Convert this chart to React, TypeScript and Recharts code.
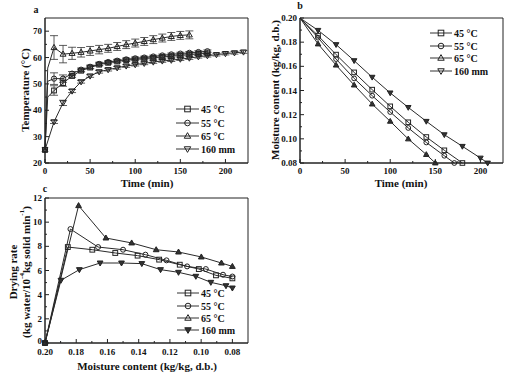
import React from 'react';
import { LineChart, Line, XAxis, YAxis, ErrorBar, ReferenceArea } from 'recharts';

// ---------- Panel a: temperature vs time ----------
const timeA45 = [0, 3, 10, 20, 30, 40, 50, 60, 70, 80, 90, 100, 110, 120, 130, 140, 150, 160, 170, 180];
const tempA45 = [25, 45, 47.5, 50.3, 53.0, 55.0, 56.2, 57.3, 58.0, 58.5, 59.0, 59.3, 59.6, 59.9, 60.2, 60.5, 60.8, 61.1, 61.4, 61.6];
const errA45 = [0, 0, 1.8, 1.2, 0.6, 0.5, 0.5, 0.5, 0.5, 0.5, 0.5, 0.5, 0.5, 0.5, 0.5, 0.5, 0.5, 0.5, 0.5, 0.5];
const timeA55 = [0, 3, 10, 20, 30, 40, 50, 60, 70, 80, 90, 100, 110, 120, 130, 140, 150, 160, 170, 180];
const tempA55 = [25, 51, 52.0, 52.0, 53.9, 55.4, 56.5, 57.6, 58.3, 58.8, 59.3, 59.7, 60.0, 60.4, 60.8, 61.2, 61.5, 61.8, 62.1, 62.4];
const errA55 = [0, 0, 2.2, 1.4, 0.8, 0.6, 0.6, 0.6, 0.5, 0.5, 0.5, 0.5, 0.5, 0.5, 0.5, 0.5, 0.5, 0.5, 0.5, 0.5];
const timeA65 = [0, 3, 10, 20, 30, 40, 50, 60, 70, 80, 90, 100, 110, 120, 130, 140, 150, 160];
const tempA65 = [25, 56, 63.8, 61.3, 61.6, 62.0, 62.5, 63.0, 63.5, 64.2, 64.9, 65.5, 66.1, 66.8, 67.4, 68.0, 68.4, 68.6];
const errA65 = [0, 0, 4.5, 3.3, 2.3, 1.8, 1.7, 1.6, 1.5, 1.5, 1.5, 1.5, 1.5, 1.5, 1.5, 1.5, 1.5, 1.5];
const timeA160 = [0, 10, 20, 30, 40, 50, 60, 70, 80, 90, 100, 110, 120, 130, 140, 150, 160, 170, 180, 190, 200, 210, 220];
const tempA160 = [25, 35.6, 42.8, 47.3, 50.8, 53.0, 54.6, 55.4, 56.1, 56.8, 57.3, 57.8, 58.3, 58.7, 59.0, 59.4, 59.8, 60.3, 60.7, 61.1, 61.5, 61.8, 62.1];
const errA160 = [0, 0.6, 1.0, 0.6, 0.5, 0.5, 0.5, 0.5, 0.5, 0.5, 0.5, 0.5, 0.5, 0.5, 0.5, 0.5, 0.5, 0.5, 0.5, 0.5, 0.5, 0.5, 0.5];

// ---------- Panel b: moisture vs time ----------
const timeB45 = [0, 20, 40, 60, 80, 100, 120, 140, 160, 180];
const mcB45 = [0.2, 0.1854, 0.1697, 0.155, 0.1407, 0.1269, 0.1137, 0.1015, 0.0905, 0.08];
const timeB55 = [0, 20, 40, 60, 80, 100, 120, 140, 160, 171];
const mcB55 = [0.2, 0.1837, 0.166, 0.15, 0.1357, 0.1222, 0.109, 0.097, 0.086, 0.08];
const timeB65 = [0, 20, 40, 60, 80, 100, 120, 140, 150];
const mcB65 = [0.2, 0.1785, 0.161, 0.1445, 0.1288, 0.1145, 0.0999, 0.087, 0.08];
const timeB160 = [0, 20, 40, 60, 80, 100, 120, 140, 160, 180, 200, 208];
const mcB160 = [0.2, 0.1898, 0.178, 0.1647, 0.151, 0.138, 0.126, 0.1145, 0.1034, 0.0938, 0.0841, 0.08];

// ---------- Panel c: drying rate vs moisture ----------
const rateC45 = [0, 7.94, 7.72, 7.45, 7.23, 6.9, 6.48, 6.12, 5.6, 5.35];
const rateC55 = [0, 9.43, 7.94, 7.72, 7.31, 6.84, 6.34, 6.12, 5.65, 5.5];
const rateC65 = [0, 11.37, 8.69, 8.28, 7.72, 7.53, 7.12, 6.62, 6.34];
const rateC160 = [0, 5.19, 6.07, 6.62, 6.62, 6.57, 6.07, 5.85, 5.52, 5.02, 4.74, 4.55];

// ---------- Tick labels ----------
const timeMajor = [0, 50, 100, 150, 200];
const timeMinor = [25, 75, 125, 175];
const tempMajor = [20, 30, 40, 50, 60, 70];
const tempMinor = [25, 35, 45, 55, 65];
const mcMajor = [0.08, 0.1, 0.12, 0.14, 0.16, 0.18, 0.2];
const mcMinor = [0.09, 0.11, 0.13, 0.15, 0.17, 0.19];
const rateMajor = [0, 2, 4, 6, 8, 10, 12];
const rateMinor = [1, 3, 5, 7, 9, 11];

const seriesLabels = ['45 °C', '55 °C', '65 °C', '160 mm'];

const zip = (xs: number[], ys: number[], es?: number[]) =>
  xs.map((x, i) => ({ x, y: ys[i], e: es ? es[i] : 0 }));

const FONT = '"Liberation Serif", "Times New Roman", serif';
const INK = '#222';

type Shape = 'square' | 'circle' | 'up' | 'down';

function Sym({ shape, cx, cy, r, fill }: { shape: Shape; cx: number; cy: number; r: number; fill: string }) {
  const common = { fill, stroke: INK, strokeWidth: 1 };
  if (shape === 'square') return <rect x={cx - r} y={cy - r} width={2 * r} height={2 * r} {...common} />;
  if (shape === 'circle') return <circle cx={cx} cy={cy} r={r} {...common} />;
  if (shape === 'up')
    return (
      <polygon
        points={`${cx},${cy - r * 1.2} ${cx - r * 1.15},${cy + r * 0.8} ${cx + r * 1.15},${cy + r * 0.8}`}
        {...common}
      />
    );
  return (
    <polygon
      points={`${cx},${cy + r * 1.2} ${cx - r * 1.15},${cy - r * 0.8} ${cx + r * 1.15},${cy - r * 0.8}`}
      {...common}
    />
  );
}

const makeDot = (shape: Shape, r: number, fill: string, skip: (i: number, p: any) => boolean) => (p: any) => {
  const { cx, cy, index } = p;
  if (cx == null || cy == null || skip(index, p)) return <g key={`n${index}`} />;
  return (
    <g key={`d${index}`}>
      <Sym shape={shape} cx={cx} cy={cy} r={r} fill={fill} />
    </g>
  );
};

const makeXTick = (majors: number[], fmt: (v: number) => string, off = 11) => (p: any) => {
  const { x, y, payload } = p;
  const major = majors.includes(payload.value);
  return (
    <g>
      <line x1={x} x2={x} y1={y} y2={y - (major ? 4 : 2)} stroke={INK} strokeWidth={1} />
      {major && (
        <text x={x} y={y + off} textAnchor="middle" fontSize={9} fontWeight="bold" fontFamily={FONT} fill="#111">
          {fmt(payload.value)}
        </text>
      )}
    </g>
  );
};

const makeYTick = (majors: number[], fmt: (v: number) => string, bottomVal?: number) => (p: any) => {
  const { x, y, payload } = p;
  const major = majors.includes(payload.value);
  const dy = payload.value === bottomVal ? 1 : 3;
  return (
    <g>
      <line x1={x} x2={x + (major ? 4 : 2)} y1={y} y2={y} stroke={INK} strokeWidth={1} />
      {major && (
        <text x={x - 3} y={y + dy} textAnchor="end" fontSize={9} fontWeight="bold" fontFamily={FONT} fill="#111">
          {fmt(payload.value)}
        </text>
      )}
    </g>
  );
};

const axisCommon = {
  tickLine: false,
  tickSize: 0,
  tickMargin: 0,
  interval: 0 as const,
  axisLine: { stroke: INK, strokeWidth: 1 },
};

const lineCommon = {
  type: 'linear' as const,
  stroke: '#2a2a2a',
  strokeWidth: 1,
  isAnimationActive: false,
};

function PanelA() {
  const none = () => false;
  const skip3 = (i: number, p: any) => p.payload && p.payload.x === 3;
  return (
    <LineChart width={253} height={190} margin={{ top: 18, right: 5, bottom: 7, left: 10 }}>
      <XAxis
        dataKey="x"
        type="number"
        domain={[0, 225]}
        ticks={[...timeMajor, ...timeMinor]}
        height={20}
        tick={makeXTick(timeMajor, (v) => String(v))}
        {...axisCommon}
      />
      <YAxis
        type="number"
        domain={[20, 75]}
        ticks={[...tempMajor, ...tempMinor]}
        width={35}
        tick={makeYTick(tempMajor, (v) => String(v))}
        {...axisCommon}
      />
      <ReferenceArea x1={0} x2={225} y1={20} y2={75} fill="none" stroke={INK} strokeWidth={1} ifOverflow="visible" />
      <Line data={zip(timeA160, tempA160, errA160)} dataKey="y" {...lineCommon} dot={makeDot('down', 2.6, 'none', none)}>
        <ErrorBar dataKey="e" width={4} stroke="#333" strokeWidth={0.8} direction="y" />
      </Line>
      <Line data={zip(timeA45, tempA45, errA45)} dataKey="y" {...lineCommon} dot={makeDot('square', 2.4, 'none', skip3)}>
        <ErrorBar dataKey="e" width={4} stroke="#333" strokeWidth={0.8} direction="y" />
      </Line>
      <Line data={zip(timeA55, tempA55, errA55)} dataKey="y" {...lineCommon} dot={makeDot('circle', 2.6, 'none', skip3)}>
        <ErrorBar dataKey="e" width={4} stroke="#333" strokeWidth={0.8} direction="y" />
      </Line>
      <Line data={zip(timeA65, tempA65, errA65)} dataKey="y" {...lineCommon} dot={makeDot('up', 2.6, 'none', skip3)}>
        <ErrorBar dataKey="e" width={4} stroke="#333" strokeWidth={0.8} direction="y" />
      </Line>
    </LineChart>
  );
}

function PanelB() {
  const skip0 = (i: number) => i === 0;
  return (
    <LineChart width={253} height={190} margin={{ top: 18, right: 3, bottom: 7, left: 10 }}>
      <XAxis
        dataKey="x"
        type="number"
        domain={[0, 225]}
        ticks={[...timeMajor, ...timeMinor]}
        height={20}
        tick={makeXTick(timeMajor, (v) => String(v))}
        {...axisCommon}
      />
      <YAxis
        type="number"
        domain={[0.08, 0.2]}
        ticks={[...mcMajor, ...mcMinor]}
        width={37}
        tick={makeYTick(mcMajor, (v) => v.toFixed(2))}
        {...axisCommon}
      />
      <ReferenceArea x1={0} x2={225} y1={0.08} y2={0.2} fill="none" stroke={INK} strokeWidth={1} ifOverflow="visible" />
      <Line data={zip(timeB45, mcB45)} dataKey="y" {...lineCommon} dot={makeDot('square', 2.3, 'none', skip0)} />
      <Line data={zip(timeB55, mcB55)} dataKey="y" {...lineCommon} dot={makeDot('circle', 2.4, 'none', skip0)} />
      <Line data={zip(timeB65, mcB65)} dataKey="y" {...lineCommon} dot={makeDot('up', 2.4, '#333', skip0)} />
      <Line data={zip(timeB160, mcB160)} dataKey="y" {...lineCommon} dot={makeDot('down', 2.4, '#333', skip0)} />
    </LineChart>
  );
}

function PanelC() {
  const none = () => false;
  return (
    <LineChart width={253} height={190} margin={{ top: 13, right: 5, bottom: 12, left: 10 }}>
      <XAxis
        dataKey="x"
        type="number"
        domain={[0.07, 0.2]}
        reversed
        ticks={[...mcMajor, ...mcMinor]}
        height={20}
        tick={makeXTick(mcMajor, (v) => v.toFixed(2), 12)}
        {...axisCommon}
      />
      <YAxis
        type="number"
        domain={[0, 12]}
        ticks={[...rateMajor, ...rateMinor]}
        width={35}
        tick={makeYTick(rateMajor, (v) => String(v), 0)}
        {...axisCommon}
      />
      <ReferenceArea x1={0.07} x2={0.2} y1={0} y2={12} fill="none" stroke={INK} strokeWidth={1} ifOverflow="visible" />
      <Line data={zip(mcB160, rateC160)} dataKey="y" {...lineCommon} dot={makeDot('down', 2.5, '#333', none)} />
      <Line data={zip(mcB45, rateC45)} dataKey="y" {...lineCommon} dot={makeDot('square', 2.4, 'none', none)} />
      <Line data={zip(mcB55, rateC55)} dataKey="y" {...lineCommon} dot={makeDot('circle', 2.5, 'none', none)} />
      <Line data={zip(mcB65, rateC65)} dataKey="y" {...lineCommon} dot={makeDot('up', 2.5, '#333', none)} />
    </LineChart>
  );
}

function LegendBlock({ x1, x2, ys, shapes, fills }: { x1: number; x2: number; ys: number[]; shapes: Shape[]; fills: string[] }) {
  return (
    <g>
      {ys.map((y, i) => (
        <g key={i}>
          <line x1={x1} x2={x2} y1={y} y2={y} stroke="#333" strokeWidth={1} />
          <Sym shape={shapes[i]} cx={(x1 + x2) / 2} cy={y} r={2.8} fill={fills[i]} />
          <text x={x2 + 2} y={y + 3.5} fontSize={10} fontWeight="bold" fontFamily={FONT} fill="#111">
            {seriesLabels[i]}
          </text>
        </g>
      ))}
    </g>
  );
}

function Overlay() {
  const shapes: Shape[] = ['square', 'circle', 'up', 'down'];
  const t = { fontFamily: FONT, fontWeight: 'bold' as const, fill: '#111' };
  return (
    <svg width={506} height={375} style={{ position: 'absolute', left: 0, top: 0, pointerEvents: 'none' }}>
      <text x={36} y={13} fontSize={10} textAnchor="middle" {...t}>a</text>
      <text x={300} y={9} fontSize={10} textAnchor="middle" {...t}>b</text>
      <text x={45} y={192} fontSize={10} textAnchor="middle" {...t}>c</text>

      <text transform="translate(25,90) rotate(-90)" fontSize={11} textAnchor="middle" dominantBaseline="central" {...t}>
        Temperature (°C)
      </text>
      <text x={147} y={187} fontSize={11} textAnchor="middle" {...t}>Time (min)</text>

      <text transform="translate(275,90) rotate(-90)" fontSize={11} textAnchor="middle" dominantBaseline="central" {...t}>
        Moisture content (kg/kg, d.b.)
      </text>
      <text x={401} y={187} fontSize={11} textAnchor="middle" {...t}>Time (min)</text>

      <text transform="translate(13,272) rotate(-90)" fontSize={11} textAnchor="middle" dominantBaseline="central" {...t}>
        Drying rate
      </text>
      <text transform="translate(26,272) rotate(-90)" fontSize={11} textAnchor="middle" dominantBaseline="central" {...t}>
        <tspan>(kg water/10</tspan>
        <tspan fontSize={7} dy={-4}>-4</tspan>
        <tspan dy={4}>kg solid min</tspan>
        <tspan fontSize={7} dy={-4}>-1</tspan>
        <tspan dy={4}>)</tspan>
      </text>
      <text x={147} y={370} fontSize={11} textAnchor="middle" {...t}>Moisture content (kg/kg, d.b.)</text>

      <LegendBlock x1={176} x2={199} ys={[109, 123, 136, 149]} shapes={shapes} fills={['none', 'none', 'none', 'none']} />
      <LegendBlock x1={430} x2={452} ys={[33, 46, 58, 71]} shapes={shapes} fills={['none', 'none', 'none', 'none']} />
      <LegendBlock x1={177} x2={199} ys={[293, 306, 318, 330]} shapes={shapes} fills={['none', 'none', 'none', '#333']} />
    </svg>
  );
}

export default function App() {
  return (
    <div style={{ position: 'absolute', left: 0, top: 0, width: 506, height: 375, background: '#fff' }}>
      <div style={{ position: 'absolute', left: 0, top: 0 }}>
        <PanelA />
      </div>
      <div style={{ position: 'absolute', left: 253, top: 0 }}>
        <PanelB />
      </div>
      <div style={{ position: 'absolute', left: 0, top: 185 }}>
        <PanelC />
      </div>
      <Overlay />
    </div>
  );
}
